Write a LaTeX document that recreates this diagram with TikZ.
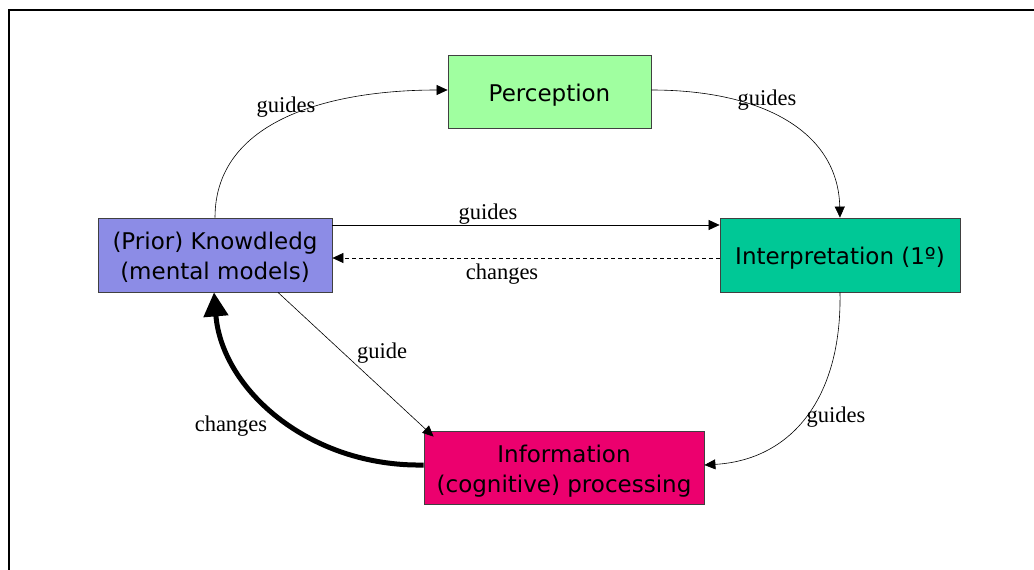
\documentclass[tikz,border=0pt]{standalone}
\usepackage{fontspec}
\setmainfont{DejaVu Sans}
\newfontfamily\labelfont{Liberation Serif}
\usetikzlibrary{arrows.meta}
\definecolor{percol}{RGB}{160,255,160}
\definecolor{knowcol}{RGB}{140,140,230}
\definecolor{intcol}{RGB}{0,200,150}
\definecolor{infcol}{RGB}{236,0,110}
\newcommand\boxtext[1]{\raisebox{-3.5pt}[\height][\depth]{\begin{tabular}{@{}c@{}}#1\end{tabular}}}
\tikzset{
  boxnode/.style={draw=black!75, line width=0.8pt, rectangle, inner sep=0pt, align=center,
    font=\fontsize{23}{30}\selectfont},
  lbl/.style={font=\labelfont\fontsize{22.5}{26}\selectfont, inner sep=0pt},
  conn/.style={line width=0.6pt, -{Triangle[length=11pt,width=10pt]}},
  dashconn/.style={conn, dash pattern=on 4pt off 3pt},
  thickconn/.style={line width=5pt, -{Triangle[length=24pt,width=24pt]}}
}
\begin{document}
\begin{tikzpicture}[x=1pt,y=-1pt]
\useasboundingbox (0,0) rectangle (1034,570);
\draw[line width=2pt] (8.5,575) -- (8.5,10) -- (1040,10);

\node[boxnode, fill=percol, minimum width=203pt, minimum height=73pt] (per) at (549.5,91.5) {\boxtext{Perception}};
\node[boxnode, fill=knowcol, minimum width=234pt, minimum height=74pt] (know) at (215,255) {\boxtext{(Prior) Knowdledg\\(mental models)}};
\node[boxnode, fill=intcol, minimum width=240pt, minimum height=74pt] (int) at (840,255) {\boxtext{Interpretation (1º)}};
\node[boxnode, fill=infcol, minimum width=280pt, minimum height=73pt] (inf) at (564,467.5) {\boxtext{Information\\(cognitive) processing}};

\coordinate (k1) at (know.north);
\coordinate (p1) at ([yshift=1.5pt]per.west);
\draw[conn] (k1) .. controls (215,120) and (330,90) .. (p1);
\node[lbl] (l1) at (286,107) {guides};

\coordinate (p2) at ([yshift=1.5pt]per.east);
\draw[conn] (p2) .. controls (760,90) and (838,130) .. (int.north);
\node[lbl] (l2) at (767,100) {guides};

\coordinate (k3) at ([yshift=30pt]know.east);
\coordinate (i3) at ([yshift=30pt]int.west);
\draw[conn] (k3) -- (i3);
\node[lbl] (l3) at (488,214) {guides};

\coordinate (k4) at ([yshift=-3pt]know.east);
\coordinate (i4) at ([yshift=-3pt]int.west);
\draw[dashconn] (i4) -- (k4);
\node[lbl] (l4) at (502,274) {changes};

\coordinate (i5) at ([yshift=2.5pt]inf.east);
\draw[conn] (int.south) .. controls (842,400) and (790,460) .. (i5);
\node[lbl] (l5) at (836,417) {guides};

\coordinate (k6) at ([xshift=63pt]know.south);
\coordinate (f6) at ([xshift=10pt,yshift=-6pt]inf.north west);
\draw[conn] (k6) -- (f6);
\node[lbl] (l6) at (382,353) {guide};

\coordinate (f7) at ([yshift=2.5pt]inf.west);
\coordinate (k7) at ([xshift=-1pt]know.south);
\draw[thickconn] (f7) .. controls (310,467) and (222,390) .. (k7);
\node[lbl] (l7) at (231,426) {changes};
\end{tikzpicture}
\end{document}
